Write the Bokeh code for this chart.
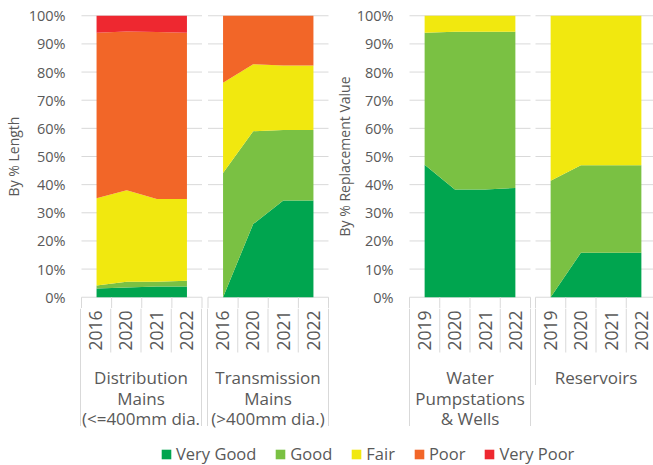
import numpy as np
from bokeh.plotting import figure
from bokeh.models import (ColumnDataSource, Range1d, FixedTicker, NumeralTickFormatter,
                          Legend, LegendItem)
from bokeh.layouts import row, column
from bokeh.embed import file_html
from bokeh.resources import INLINE
from bokeh.core.properties import value

# ---------------- data ----------------
conditions = ["Very Good", "Good", "Fair", "Poor", "Very Poor"]
colors = ["#00A54F", "#7AC143", "#F1E80F", "#F26628", "#EE2830"]

dist_label = "Distribution\nMains\n(<=400mm dia."
dist_years = ["2016", "2020", "2021", "2022"]
dist_very_good = [3.1, 3.5, 3.8, 3.8]
dist_good = [1.1, 2.0, 1.7, 2.1]
dist_fair = [31.0, 32.5, 29.4, 29.0]
dist_poor = [58.8, 56.4, 59.3, 59.1]
dist_very_poor = [6.0, 5.6, 5.8, 6.0]

trans_label = "Transmission\nMains\n(>400mm dia.)"
trans_years = ["2016", "2020", "2021", "2022"]
trans_very_good = [0.0, 26.0, 34.4, 34.4]
trans_good = [44.1, 33.0, 25.0, 25.0]
trans_fair = [32.1, 23.8, 22.9, 22.9]
trans_poor = [23.8, 17.2, 17.7, 17.7]
trans_very_poor = [0.0, 0.0, 0.0, 0.0]

pump_label = "Water\nPumpstations\n& Wells"
pump_years = ["2019", "2020", "2021", "2022"]
pump_very_good = [47.1, 38.3, 38.3, 38.8]
pump_good = [46.9, 56.0, 56.0, 55.5]
pump_fair = [6.0, 5.7, 5.7, 5.7]
pump_poor = [0.0, 0.0, 0.0, 0.0]
pump_very_poor = [0.0, 0.0, 0.0, 0.0]

res_label = "Reservoirs"
res_years = ["2019", "2020", "2021", "2022"]
res_very_good = [0.0, 15.8, 15.8, 15.8]
res_good = [41.4, 31.1, 31.1, 31.1]
res_fair = [58.6, 53.1, 53.1, 53.1]
res_poor = [0.0, 0.0, 0.0, 0.0]
res_very_poor = [0.0, 0.0, 0.0, 0.0]

y_ticks = [i / 10 for i in range(11)]

# ---------------- styling ----------------
FONT = "Open Sans"
GREY = "#595959"
LINE = "#d9d9d9"
CELL = 30.25      # px per category slot
PAD = 0.04        # y-range padding below 0% and above 100%

def group(label, years, vg, g, f, p, vp):
    return dict(label=label, years=years, series=[vg, g, f, p, vp])

left_groups = [
    group(dist_label, dist_years, dist_very_good, dist_good, dist_fair, dist_poor, dist_very_poor),
    group(trans_label, trans_years, trans_very_good, trans_good, trans_fair, trans_poor, trans_very_poor),
]
right_groups = [
    group(pump_label, pump_years, pump_very_good, pump_good, pump_fair, pump_poor, pump_very_poor),
    group(res_label, res_years, res_very_good, res_good, res_fair, res_poor, res_very_poor),
]


def build_side(groups, gap_px, fig_w, border_left, axis_label, tick_standoff, label_standoff):
    n = len(groups[0]["years"])
    frame_w = fig_w - border_left
    starts = [i * (n + gap_px / CELL) for i in range(len(groups))]
    x_range = Range1d(-2 / CELL, (frame_w - 2) / CELL)

    top = figure(width=fig_w, height=308, x_range=x_range,
                 y_range=Range1d(-PAD, 1 + PAD),
                 x_axis_type=None, toolbar_location=None, output_backend="svg",
                 min_border_left=border_left, min_border_right=0, min_border_top=4,
                 min_border_bottom=0, outline_line_color=None)
    top.ygrid.visible = False
    ax = top.yaxis[0]
    ax.ticker = FixedTicker(ticks=y_ticks)
    ax.formatter = NumeralTickFormatter(format="0%")
    ax.axis_line_color = None
    ax.major_tick_line_color = None
    ax.minor_tick_line_color = None
    ax.major_tick_out = 0
    ax.major_tick_in = 0
    ax.major_label_text_font = FONT
    ax.major_label_text_font_size = "14.5px"
    ax.major_label_text_color = GREY
    ax.major_label_standoff = tick_standoff
    ax.axis_label = axis_label
    ax.axis_label_text_font = FONT
    ax.axis_label_text_font_style = "normal"
    ax.axis_label_text_font_size = "14px"
    ax.axis_label_text_color = GREY
    ax.axis_label_standoff = label_standoff

    bottom = figure(width=fig_w, height=124, x_range=x_range, y_range=Range1d(-124, 0),
                    x_axis_type=None, y_axis_type=None, toolbar_location=None,
                    output_backend="svg", min_border_left=border_left, min_border_right=0,
                    min_border_top=0, min_border_bottom=0, outline_line_color=None)

    for s, grp in zip(starts, groups):
        # panel gridlines
        top.multi_line(xs=[[s, s + n] for _ in y_ticks], ys=[[t, t] for t in y_ticks],
                       line_color=LINE, line_width=1)
        data = {"x": [s + i + 0.5 for i in range(n)]}
        for c, vals in zip(conditions, grp["series"]):
            data[c] = [v / 100 for v in vals]
        src = ColumnDataSource(data)
        top.varea_stack(stackers=conditions, x="x", color=colors, source=src)

        # category label cells
        xs = [s + i for i in range(n + 1)]
        top.segment(x0=xs, y0=[0] * len(xs), x1=xs, y1=[-PAD] * len(xs),
                    line_color=LINE, line_width=1)
        lines = grp["label"].split("\n")
        outer = 56 + 20.5 * len(lines)
        ys1 = [-outer if i in (0, n) else -44 for i in range(n + 1)]
        bottom.segment(x0=xs, y0=[0] * len(xs), x1=xs, y1=ys1, line_color=LINE, line_width=1)

        bottom.text(x=[s + i + 0.5 for i in range(n)], y=[-22] * n, text=grp["years"],
                    angle=np.pi / 2, text_align="center", text_baseline="middle",
                    text_font=value(FONT), text_font_size="17.5px", text_color=GREY)
        bottom.text(x=[s + n / 2] * len(lines), y=[-69 - 20.5 * k for k in range(len(lines))],
                    text=lines, text_align="center", text_baseline="middle",
                    text_font=value(FONT), text_font_size="17px", text_color=GREY)

    return top, bottom


lt, lb = build_side(left_groups, 6, 330, 78, "By % Length", 14, 3)
rt, rb = build_side(right_groups, 5, 323, 77, "By % Replacement Value", 14, 0)

leg = figure(width=653, height=33, x_range=Range1d(0, 1), y_range=Range1d(0, 1),
             x_axis_type=None, y_axis_type=None, toolbar_location=None,
             output_backend="svg", min_border=0, outline_line_color=None)
items = []
for c, col in zip(conditions, colors):
    r = leg.quad(left=[2], right=[3], bottom=[2], top=[3], fill_color=col, line_color=None)
    items.append(LegendItem(label=c, renderers=[r]))
legend = Legend(items=items, orientation="horizontal", location=(160, 0),
                border_line_color=None, background_fill_alpha=0, padding=0, margin=0,
                spacing=18, label_standoff=4, glyph_width=12, glyph_height=12,
                label_height=12, label_text_font=FONT, label_text_font_size="16.5px",
                label_text_color=GREY, label_text_baseline="middle")
leg.add_layout(legend, "center")

p = column(row(lt, rt), row(lb, rb), leg)

open("out.html", "w").write(file_html(p, INLINE))
